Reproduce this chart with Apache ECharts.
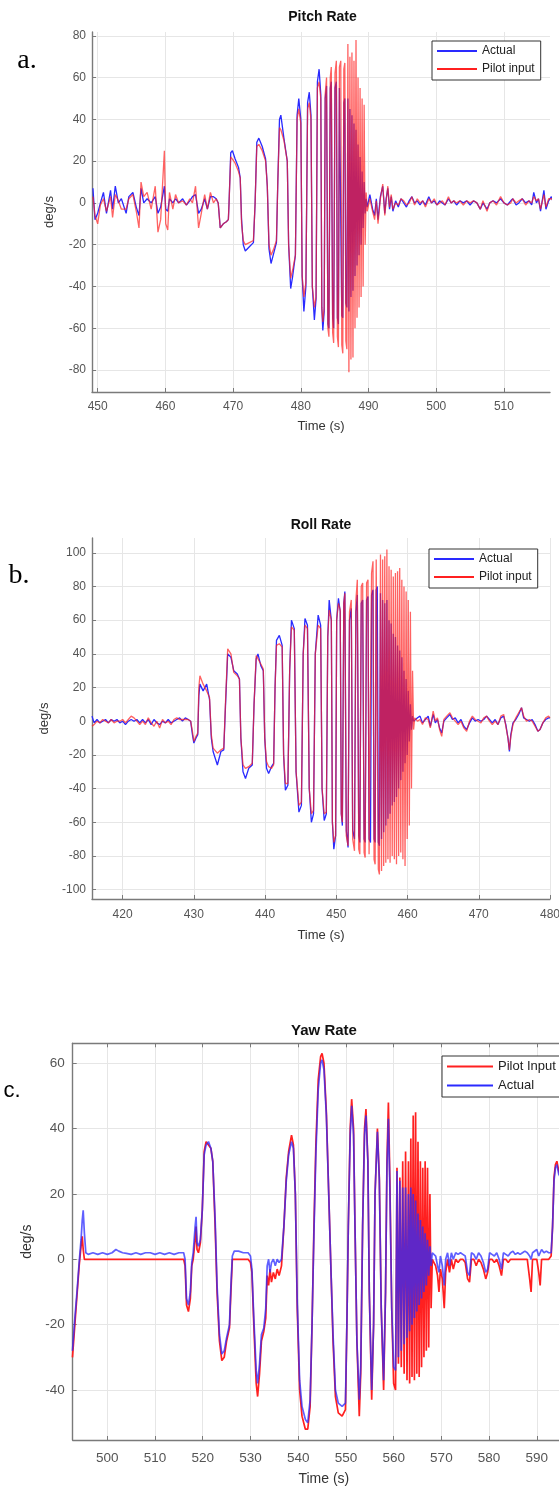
<!DOCTYPE html>
<html>
<head>
<meta charset="utf-8">
<script src="https://cdn.jsdelivr.net/npm/echarts@6.0.0/dist/echarts.min.js"></script>
<style>
html, body { margin: 0; padding: 0; background: #ffffff; }
#chart { width: 559px; height: 1491px; }
</style>
</head>
<body>
<div id="chart"></div>
<script>
// ---------- Pitch rate (deg/s) ----------
const pitchTime = [
  449.3, 449.6, 450.0, 450.4, 450.85, 451.3, 451.9, 452.2, 452.6, 453.05,
  453.5, 454.2, 454.6, 455.2, 455.7, 456.1, 456.4, 456.8, 457.3, 457.9,
  458.5, 458.9, 459.3, 459.85, 460.05, 460.35, 460.6, 461.1, 461.5, 461.95,
  462.55, 463.1, 463.6, 464.0, 464.45, 464.9, 465.3, 465.8, 466.2, 466.65,
  467.1, 467.5, 467.8, 468.1, 468.55, 469.0, 469.3, 469.4, 469.65, 469.9,
  470.3, 470.8, 471.05, 471.25, 471.5, 471.8, 472.4, 473.0, 473.25, 473.5,
  473.8, 474.3, 474.8, 475.05, 475.3, 475.6, 476.0, 476.4, 476.6, 476.85,
  477.05, 477.5, 478.0, 478.2, 478.5, 478.8, 479.2, 479.45, 479.7, 480.0,
  480.2, 480.45, 480.75, 481.0, 481.25, 481.5, 481.7, 482.0, 482.25, 482.45,
  482.7, 482.95, 483.1, 483.25, 483.45, 483.6, 483.8, 484.0, 484.15, 484.35,
  484.5, 484.7, 484.85, 485.05, 485.25, 485.4, 485.55, 485.7, 485.9, 486.05,
  486.2, 486.35, 486.5, 486.65, 486.8, 486.95, 487.1, 487.25, 487.4, 487.55,
  487.7, 487.85, 488.0, 488.15, 488.3, 488.45, 488.6, 488.75, 488.9, 489.05,
  489.2, 489.35, 489.5, 489.65, 489.8, 490.2, 490.6, 490.9, 491.15, 491.4,
  491.75, 492.1, 492.4, 492.6, 492.85, 493.1, 493.35, 493.6, 494.0, 494.4,
  494.8, 495.2, 495.6, 496.0, 496.4, 496.8, 497.2, 497.6, 498.0, 498.4,
  498.9, 499.3, 499.7, 500.1, 500.5, 500.9, 501.3, 501.8, 502.2, 502.6,
  503.0, 503.5, 504.0, 504.5, 505.0, 505.5, 506.0, 506.5, 506.9, 507.5,
  507.9, 508.4, 508.9, 509.5, 510.0, 510.5, 511.0, 511.3, 511.8, 512.2,
  512.7, 513.2, 513.7, 514.1, 514.4, 514.8, 515.1, 515.4, 515.9, 516.2,
  516.6, 517.0, 517.3
];
const pitchActual = [
  7, -8, -5, 0, 5, -5, 6, -3, 8, 0,
  2, -5, 3, 5, -2, -6, 7, 0, 2, 0,
  3, -5, -2, 8, -3, -4, 2, 0, 2, 0,
  2, -1, 1, 3, 4, -5, -3, 2, -3, 3,
  3, 2, 0, -12, -10, -9, -8, 0, 24, 25,
  21, 17, 12, -8, -20, -23, -21, -19, 0, 29,
  31, 27, 21, 8, -22, -29, -24, -19, 10, 40,
  42, 31, 20, -20, -41, -35, -25, 42, 50, 40,
  -35, -52, -40, 48, 53, 42, -40, -56, -46, 58,
  64, 52, -50, -61, -52, 50, 56, -58, -60, 55,
  58, -55, -60, 55, 58, -55, -58, 55, 55, -54,
  -55, 48, 50, -48, -50, 50, -52, 45, -45, 42,
  -42, 38, -35, 35, -30, 28, -25, 22, -20, 15,
  -12, 10, -5, 2, -2, 4, -3, -6, 2, -8,
  3, 8, -5, 2, 7, -3, 3, -4, 1, -2,
  2, 0, -2, 1, 3, 0, 1, -1, 1, -1,
  3, 0, 1, -1, 1, 0, -1, 2, 0, 1,
  -1, 1, 0, 1, -1, 1, 0, -3, 0, -3,
  0, 1, 0, 2, 0, -1, 1, 2, -1, 0,
  2, 0, 1, -1, 5, 0, 2, -4, 6, -3,
  1, 3, 0
];
const pitchPilot = [
  3, -6, -10, -1, 2, -4, 3, -7, 4, 1,
  -3, -3, 2, 4, -4, -12, 10, 3, 5, -3,
  8, -14, -8, 25, -10, -13, 5, -3, 4, 0,
  1, -1, 2, 0, 8, -12, -5, 4, -3, 5,
  0, 2, 0, -12, -10, -9, -8, 0, 22, 21,
  19, 15, 12, -10, -18, -20, -19, -18, 0, 27,
  28, 25, 20, 8, -20, -25, -22, -18, 10, 36,
  35, 30, 20, -20, -36, -32, -25, 40, 45, 38,
  -35, -45, -38, 45, 48, 40, -40, -50, -45, 55,
  58, 50, -50, -57, -50, 52, 60, -60, -64, 60,
  65, -62, -67, 62, 68, -64, -69, 65, 68, -68,
  -72, 64, 67, -66, -70, 76, -81, 70, -75, 72,
  -74, 68, -60, 78, -55, 60, -50, 55, -45, 50,
  -40, 47, -20, 5, -4, 2, -4, -8, 1, -10,
  2, 9, -6, 1, 8, -2, 4, -3, 0, -1,
  2, 1, -1, 0, 3, -1, 2, 0, 1, -2,
  2, 0, 2, -1, 0, 1, -1, 3, 0, 1,
  0, 1, -1, 1, 0, 1, 0, -3, 1, -4,
  0, 1, -1, 3, 0, -1, 0, 2, 0, 1,
  2, -1, 1, 0, 3, 1, 2, -3, 4, -2,
  2, 2, 1
];

// ---------- Roll rate (deg/s) ----------
const rollTime = [
  415.7, 416.0, 416.4, 416.8, 417.2, 417.6, 418.0, 418.4, 418.8, 419.2,
  419.6, 420.0, 420.4, 420.8, 421.2, 421.6, 422.0, 422.4, 422.8, 423.2,
  423.6, 424.0, 424.4, 424.8, 425.2, 425.6, 426.0, 426.4, 426.8, 427.2,
  427.6, 428.0, 428.4, 428.8, 429.2, 429.55, 429.8, 430.0, 430.3, 430.55,
  430.7, 430.85, 431.3, 431.8, 432.2, 432.45, 432.7, 433.3, 433.8, 434.2,
  434.45, 434.75, 435.2, 435.6, 436.1, 436.4, 436.6, 436.9, 437.25, 437.7,
  438.2, 438.45, 438.75, 439.0, 439.4, 439.75, 439.95, 440.2, 440.5, 440.9,
  441.2, 441.4, 441.6, 442.0, 442.4, 442.6, 442.85, 443.2, 443.45, 443.7,
  444.1, 444.35, 444.75, 445.1, 445.35, 445.6, 445.95, 446.2, 446.5, 446.8,
  447.05, 447.45, 447.8, 448.0, 448.3, 448.6, 448.8, 449.0, 449.3, 449.45,
  449.65, 449.9, 450.05, 450.3, 450.55, 450.7, 450.85, 451.05, 451.2, 451.4,
  451.65, 451.85, 452.1, 452.3, 452.55, 452.75, 452.95, 453.15, 453.3, 453.5,
  453.7, 453.9, 454.05, 454.25, 454.45, 454.6, 454.8, 454.95, 455.15, 455.3,
  455.45, 455.6, 455.75, 455.9, 456.05, 456.2, 456.35, 456.5, 456.65, 456.8,
  456.95, 457.1, 457.25, 457.4, 457.55, 457.7, 457.85, 458.0, 458.15, 458.3,
  458.45, 458.6, 458.75, 458.9, 459.05, 459.2, 459.35, 459.5, 459.65, 459.8,
  459.95, 460.1, 460.25, 460.4, 460.55, 460.7, 460.85, 461.0, 461.4, 461.75,
  462.1, 462.5, 462.9, 463.2, 463.6, 463.9, 464.2, 464.5, 464.8, 465.1,
  465.5, 465.95, 466.3, 466.7, 467.1, 467.5, 467.9, 468.3, 468.7, 469.1,
  469.5, 469.9, 470.3, 470.7, 471.1, 471.5, 471.9, 472.3, 472.7, 473.1,
  473.5, 473.8, 474.1, 474.3, 474.5, 474.8, 475.2, 475.6, 476.0, 476.3,
  476.7, 477.1, 477.5, 477.9, 478.3, 478.6, 479.0, 479.4, 479.8, 480.0
];
const rollActual = [
  3, -1, 1, -1, 0, 1, -1, 1, 0, 1,
  -1, 0, -2, 0, 1, 0, 1, -1, 1, -1,
  1, -2, 1, -1, -2, 0, -1, 1, -1, 0,
  1, 2, 0, 2, 1, 0, -8, -13, -10, -8,
  15, 22, 18, 22, 13, -10, -18, -26, -18, -17,
  10, 40, 38, 30, 28, 25, -10, -30, -34, -28,
  -26, 10, 37, 40, 33, 30, -10, -28, -31, -27,
  -25, 20, 48, 51, 45, -20, -41, -38, 30, 60,
  55, -30, -54, -50, 40, 61, 57, -40, -60, -55,
  40, 63, 57, -40, -59, -55, 50, 72, 60, -60,
  -76, -68, 60, 73, 65, -55, -62, 70, 77, -65,
  -75, 60, 67, -65, -70, 65, 75, -68, -72, 70,
  72, -70, -72, 72, 74, -70, -72, 75, 78, -70,
  -72, 78, 80, -72, -74, 76, -70, 72, -66, 70,
  -62, 72, -58, 60, -55, 58, -50, 52, -48, 50,
  -45, 45, -40, 42, -35, 38, -30, 30, -25, 25,
  -20, 18, -12, 10, -5, 3, 0, 1, 2, 3,
  -1, 1, 3, -3, 4, -1, 1, -4, -7, 0,
  2, 4, 1, 2, -1, 1, -3, -5, -1, 2,
  0, 1, 0, 1, 3, 1, -1, 1, -2, 2,
  3, -2, -10, -18, -8, -1, 1, 4, 8, 2,
  1, 0, 1, -2, -6, -5, -1, 1, 2, 2
];
const rollPilot = [
  -3, -2, 0, -1, 1, 0, -1, 1, -1, 0,
  0, 1, -1, 1, 3, 2, 0, -2, 0, -2,
  2, -1, -3, 0, -4, 1, -1, 0, -2, 1,
  2, 1, 1, 1, 1, 0, -6, -12, -9, -7,
  20, 27, 22, 18, 14, -8, -16, -19, -17, -16,
  12, 43, 40, 29, 27, 25, -10, -26, -28, -27,
  -25, 10, 39, 38, 34, 31, -10, -24, -27, -28,
  -26, 20, 45, 46, 44, -20, -37, -37, 30, 56,
  54, -30, -50, -48, 40, 57, 55, -40, -55, -53,
  40, 57, 55, -40, -55, -54, 50, 66, 60, -60,
  -72, -68, 60, 70, 66, -55, -60, 70, 76, -68,
  -74, 65, 72, -70, -77, 72, 84, -76, -79, 80,
  82, -78, -81, 82, 84, -79, -78, 88, 95, -82,
  -85, 96, 97, -88, -91, 99, -89, 96, -86, 98,
  -84, 102, -82, 92, -84, 90, -80, 86, -82, 88,
  -85, 89, -80, 91, -78, 84, -82, 80, -86, 77,
  -70, 72, -62, 65, -40, 30, -5, 2, 0, 1,
  -2, 2, 1, -4, 6, 0, 2, -5, -9, 1,
  3, 5, 2, 0, -2, 0, -4, -6, 0, 3,
  1, 0, -1, 2, 3, 0, -2, 0, -2, 3,
  4, -3, -10, -17, -9, -2, 2, 5, 8, 3,
  0, 1, 0, -3, -6, -5, -1, 2, 3, 2
];

// ---------- Yaw rate (deg/s) ----------
const yawTime = [
  492.7, 493.2, 493.7, 494.1, 494.5, 494.75, 494.95, 495.2, 495.5, 496.0,
  497.0, 498.0, 499.0, 500.0, 501.0, 501.8, 502.4, 503.2, 504.0, 505.0,
  506.0, 507.0, 508.0, 509.0, 510.0, 511.0, 512.0, 513.0, 514.0, 515.0,
  516.0, 516.3, 516.6, 517.0, 517.4, 517.7, 518.0, 518.4, 518.6, 518.8,
  519.1, 519.5, 519.9, 520.3, 520.7, 521.2, 521.7, 522.1, 522.6, 523.0,
  523.5, 524.0, 524.5, 525.0, 525.6, 525.9, 526.2, 526.6, 527.5, 528.5,
  529.5, 530.0, 530.3, 530.7, 531.2, 531.5, 531.9, 532.3, 532.8, 533.2,
  533.5, 533.8, 534.1, 534.4, 534.8, 535.2, 535.6, 536.0, 536.5, 537.0,
  537.5, 538.0, 538.6, 539.0, 539.4, 539.8, 540.3, 540.8, 541.5, 542.0,
  542.5, 542.9, 543.3, 543.7, 544.2, 544.7, 545.0, 545.4, 545.9, 546.4,
  546.9, 547.3, 547.8, 548.4, 549.2, 549.9, 550.2, 550.5, 550.9, 551.2,
  551.6, 551.9, 552.3, 552.8, 553.1, 553.5, 553.9, 554.2, 554.6, 554.9,
  555.4, 555.8, 556.1, 556.6, 557.0, 557.4, 557.9, 558.3, 558.6, 558.9,
  559.2, 559.6, 560.0, 560.4, 560.7, 561.0, 561.3, 561.6, 561.9, 562.2,
  562.5, 562.8, 563.1, 563.35, 563.6, 563.85, 564.1, 564.35, 564.6, 564.85,
  565.1, 565.35, 565.6, 565.85, 566.1, 566.35, 566.6, 566.85, 567.1, 567.35,
  567.6, 567.85, 568.1, 568.4, 568.8, 569.2, 569.5, 569.8, 570.2, 570.6,
  570.9, 571.3, 571.7, 572.1, 572.5, 573.0, 573.5, 574.0, 574.5, 575.0,
  575.5, 575.9, 576.3, 576.8, 577.3, 577.8, 578.3, 578.8, 579.3, 579.7,
  580.1, 580.6, 581.1, 581.6, 582.1, 582.6, 583.0, 583.5, 584.0, 584.5,
  585.0, 585.5, 586.0, 586.5, 587.0, 587.5, 588.0, 588.5, 588.8, 589.1,
  589.5, 590.0, 590.4, 590.7, 591.0, 591.5, 592.0, 592.5, 593.0, 593.3,
  593.6, 593.9, 594.2, 594.6, 595.0, 596.0, 598.0
];
const yawPilot = [
  -30, -20, -10, -2, 4, 7, 3, 0, 0, 0,
  0, 0, 0, 0, 0, 0, 0, 0, 0, 0,
  0, 0, 0, 0, 0, 0, 0, 0, 0, 0,
  0, -2, -14, -16, -12, -2, 0, 6, 10, 3,
  2, 5, 15, 33, 36, 35, 34, 30, 10, -10,
  -25, -31, -30, -25, -21, -10, 0, 0, 0, 0,
  0, -1, -4, -20, -38, -42, -35, -25, -22, -18,
  -5, -8, -3, -7, -4, -6, -3, -5, -2, 10,
  25, 33, 38, 35, 20, -15, -40, -48, -52, -52,
  -45, -20, 10, 35, 55, 62, 63, 60, 45, 20,
  -5, -25, -42, -47, -48, -46, -20, 10, 40, 49,
  40, 10, -25, -48, -35, 10, 40, 46, 30, -10,
  -43, -20, 20, 40, 25, -15, -40, -10, 30, 48,
  25, -15, -38, -40, 28, -32, 25, -33, 30, -35,
  33, -37, 30, -38, 37, -36, 44, -37, 45, -35,
  36, -36, 30, -33, 28, -30, 30, -28, 28, -27,
  20, -15, 0, 0, -2, -5, -10, -3, -6, -15,
  -4, 0, -4, 0, -3, 0, -1, 0, 0, -1,
  -6, -7, 0, 0, -2, 0, -1, -3, -6, -4,
  0, 0, -1, 0, -2, -5, 0, 0, -1, 0,
  0, 0, 0, 0, 0, 0, 0, -6, -10, 0,
  0, 0, -4, -8, 0, 0, 0, 0, 1, 10,
  25, 29, 30, 27, 25, 24, 22
];
const yawActual = [
  -28, -18, -9, -1, 6, 12, 15, 8, 2, 1.5,
  2, 1.5, 2, 1.5, 2, 3, 2.5, 2, 1.8, 1.5,
  2, 1.5, 2, 2, 1.5, 2, 1.5, 2, 1.5, 2,
  2, 0, -12, -14, -10, -1, 2, 10, 13, 5,
  4, 6, 15, 32, 35, 36, 34, 30, 12, -8,
  -23, -29, -28, -24, -20, -8, 1, 2.5, 2.5, 2,
  2, 1, -3, -18, -34, -38, -32, -23, -21, -15,
  -2, 0, -4, -1, 0, -2, 0, -1, 0, 10,
  24, 32, 36, 34, 20, -13, -37, -45, -49, -50,
  -43, -20, 8, 32, 52, 60, 61, 58, 44, 20,
  -5, -23, -40, -44, -45, -44, -20, 10, 38, 47,
  38, 10, -25, -43, -33, 10, 38, 44, 30, -10,
  -40, -20, 20, 39, 24, -15, -37, -10, 28, 43,
  22, -15, -33, -34, 27, -30, 24, -28, 22, -26,
  22, -24, 20, -22, 22, -20, 20, -18, 18, -16,
  14, -14, 12, -12, 10, -10, 8, -8, 6, -5,
  4, -2, 2, 2, 1, -2, -4, 1, -2, -8,
  0, 2, -2, 2, 0, 2, 1.5, 2, 1.5, 1,
  -4, -5, 2, 1.5, 0, 2, 1, -1, -4, -3,
  2, 1.5, 1, 2, 0, -3, 2, 1.5, 1, 2,
  2.5, 1.5, 2, 1.5, 2, 2.5, 2, 1, 0, 2,
  2.5, 3, 1, 2, 3, 2, 2.5, 2, 2, 10,
  24, 28, 29, 26, 25, 23, 22
];

// ---------- Axis ticks ----------
const pitchTimeTicks = [450, 460, 470, 480, 490, 500, 510];
const pitchRateTicks = [-80, -60, -40, -20, 0, 20, 40, 60, 80];
const rollTimeTicks = [420, 430, 440, 450, 460, 470, 480];
const rollRateTicks = [-100, -80, -60, -40, -20, 0, 20, 40, 60, 80, 100];
const yawTimeTicks = [500, 510, 520, 530, 540, 550, 560, 570, 580, 590];
const yawRateTicks = [-40, -20, 0, 20, 40, 60];

// ---------- Styling ----------
const FONT = "'Liberation Sans', Arial, Helvetica, sans-serif";
const AXIS_COLOR = '#7a7a7a';
const GRID_COLOR = '#e6e6e6';
const LABEL_COLOR = '#555555';
const BLUE = '#2a2aff';
const RED = '#ff2020';

function axis(o) {
  return {
    type: 'value',
    gridIndex: o.grid,
    position: o.position,
    min: o.min,
    max: o.max,
    name: o.name || '',
    nameLocation: 'middle',
    nameGap: o.nameGap || 0,
    nameTextStyle: { fontFamily: FONT, fontSize: o.nameSize || 13, color: '#333333' },
    axisLine: { show: true, onZero: false, lineStyle: { color: AXIS_COLOR, width: 1.4 } },
    axisTick: { show: true, inside: true, length: 4, customValues: o.ticks,
      lineStyle: { color: AXIS_COLOR, width: 1 } },
    axisLabel: { show: o.labels !== false, customValues: o.ticks, margin: o.margin || 8,
      fontFamily: FONT, fontSize: o.fontSize || 12, color: LABEL_COLOR },
    splitLine: { show: o.split !== false, lineStyle: { color: GRID_COLOR, width: 1 } }
  };
}

function trace(name, t, v, xi, yi, color, width, opacity, z) {
  return {
    type: 'line', name: name, xAxisIndex: xi, yAxisIndex: yi,
    data: t.map((x, i) => [x, v[i]]),
    symbol: 'none', showSymbol: false, silent: true, clip: true, z: z,
    lineStyle: { color: color, width: width, opacity: opacity },
    itemStyle: { color: color }
  };
}

function legendBox(names, left, top, size, itemWidth, lineHeight) {
  return {
    data: names, left: left, top: top, orient: 'vertical', selectedMode: false,
    icon: 'rect', itemWidth: itemWidth, itemHeight: 2, itemGap: 4,
    padding: [3, 6, 4, 5], borderColor: '#333333', borderWidth: 1, borderRadius: 0,
    backgroundColor: '#ffffff',
    textStyle: { fontFamily: FONT, fontSize: size, color: '#222222', lineHeight: lineHeight }
  };
}

function label(text, x, y, font, color) {
  return { type: 'text', x: x, y: y, silent: true,
    style: { text: text, font: font, fill: color || '#111111',
      align: 'center', verticalAlign: 'middle', textAlign: 'center', textVerticalAlign: 'middle' } };
}

const chart = echarts.init(document.getElementById('chart'), null, { renderer: 'canvas', width: 559, height: 1491 });

chart.setOption({
  animation: false,
  backgroundColor: '#ffffff',
  grid: [
    { left: 92, top: 32, width: 458, height: 360, outerBoundsMode: 'none' },
    { left: 92, top: 538, width: 458, height: 361, outerBoundsMode: 'none' },
    { left: 72.7, top: 1043.3, width: 502.3, height: 396.7, outerBoundsMode: 'none' }
  ],
  xAxis: [
    axis({ grid: 0, position: 'bottom', min: 449.16, max: 516.8, ticks: pitchTimeTicks,
      name: 'Time (s)', nameGap: 28, nameSize: 13, fontSize: 12, margin: 9 }),
    axis({ grid: 1, position: 'bottom', min: 415.7, max: 480, ticks: rollTimeTicks,
      name: 'Time (s)', nameGap: 30, nameSize: 13, fontSize: 12, margin: 10 }),
    axis({ grid: 2, position: 'bottom', min: 492.75, max: 598, ticks: yawTimeTicks,
      name: 'Time (s)', nameGap: 32, nameSize: 14, fontSize: 13.5, margin: 11 }),
    axis({ grid: 2, position: 'top', min: 492.75, max: 598, ticks: yawTimeTicks,
      labels: false, split: false })
  ],
  yAxis: [
    axis({ grid: 0, position: 'left', min: -90.5, max: 81.8, ticks: pitchRateTicks,
      name: 'deg/s', nameGap: 36, nameSize: 13, fontSize: 12, margin: 6 }),
    axis({ grid: 1, position: 'left', min: -105.6, max: 108.8, ticks: rollRateTicks,
      name: 'deg/s', nameGap: 41, nameSize: 13, fontSize: 12, margin: 6 }),
    axis({ grid: 2, position: 'left', min: -55.3, max: 66.1, ticks: yawRateTicks,
      name: 'deg/s', nameGap: 38, nameSize: 14, fontSize: 13.5, margin: 8 })
  ],
  legend: [
    legendBox(['Actual', 'Pilot input'], 432, 41, 12, 40, 14),
    legendBox(['Actual', 'Pilot input'], 429, 549, 12, 40, 14),
    legendBox(['Pilot Input', 'Actual'], 442, 1056, 13, 46, 15)
  ],
  series: [
    trace('Actual', pitchTime, pitchActual, 0, 0, BLUE, 1.3, 1, 2),
    trace('Pilot input', pitchTime, pitchPilot, 0, 0, RED, 1.3, 0.7, 3),
    trace('Actual', rollTime, rollActual, 1, 1, BLUE, 1.3, 1, 2),
    trace('Pilot input', rollTime, rollPilot, 1, 1, RED, 1.3, 0.7, 3),
    trace('Pilot Input', yawTime, yawPilot, 2, 2, RED, 1.7, 1, 2),
    trace('Actual', yawTime, yawActual, 2, 2, BLUE, 1.7, 0.75, 3)
  ],
  graphic: [
    label('Pitch Rate', 322.5, 17, 'bold 14px ' + FONT, '#111111'),
    label('Roll Rate', 321, 525, 'bold 14px ' + FONT, '#111111'),
    label('Yaw Rate', 324, 1031, 'bold 15px ' + FONT, '#111111'),
    label('a.', 27, 61, "28px 'Liberation Serif', 'Times New Roman', serif", '#000000'),
    label('b.', 19, 576, "28px 'Liberation Serif', 'Times New Roman', serif", '#000000'),
    label('c.', 12, 1091, '22px ' + FONT, '#000000')
  ]
});
</script>
</body>
</html>
